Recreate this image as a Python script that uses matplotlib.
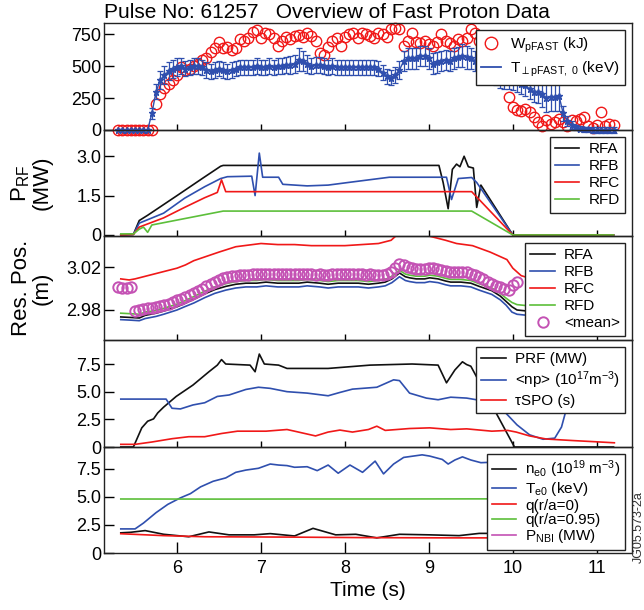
import numpy as np
import matplotlib
matplotlib.use('Agg')
import matplotlib.pyplot as plt
from matplotlib.lines import Line2D

plt.rcParams['font.family'] = ['Liberation Sans', 'DejaVu Sans']
plt.rcParams['mathtext.fontset'] = 'custom'
plt.rcParams['mathtext.rm'] = 'Liberation Sans'
plt.rcParams['mathtext.it'] = 'Liberation Sans:italic'
plt.rcParams['mathtext.bf'] = 'Liberation Sans:bold'
plt.rcParams['mathtext.default'] = 'regular'

BLUE = '#2f4fae'
RED = '#f01818'
GREEN = '#5cbf3a'
MAGENTA = '#c452b4'
BLACK = '#111111'

# ---------------- Panel 1: fast proton energy / temperature ----------------
t1 = np.round(np.arange(5.30, 11.201, 0.05), 2)
w_pfast = [0, 0, 0, 0, 0, 0, 0, 0, 0,
           205, 280, 330, 360, 390,
           430, 495, 470, 480, 500, 520, 545, 560, 610, 640,
           690, 640, 650, 630, 640, 710, 700, 720, 770, 780,
           720, 760, 750, 720, 660, 700, 730, 710, 740, 745,
           730, 760, 740, 700, 600, 590, 650, 700, 720, 660,
           730, 750, 760, 720, 760, 750, 740, 720, 760, 750,
           730, 790, 795, 790, 660, 700, 760, 690, 680, 700,
           670, 660, 690, 750, 700, 680, 660, 710, 700, 720,
           790, 760, 700, 650, 600, 430, 410, 420, 400, 260,
           180, 160, 150, 165, 140, 100, 60, 35, 75, 50,
           60, 90, 60, 30, 80, 70, 90, 100, 30, 15,
           40, 140, 30, 50, 40]
t_perp = [0, 0, 0, 0, 0, 0, 0, 0, 130,
          300, 390, 430, 460, 480,
          490, 500, 480, 490, 500, 500, 490, 470, 460, 470,
          480, 470, 460, 470, 480, 490, 490, 490, 490, 500,
          490, 490, 500, 490, 500, 500, 510, 510, 520, 550,
          540, 520, 500, 510, 510, 500, 490, 500, 490, 490,
          490, 490, 490, 490, 490, 490, 490, 490, 480, 450,
          420, 410, 430, 470, 540, 560, 560, 560, 580, 580,
          560, 520, 530, 540, 550, 540, 560, 570, 580, 570,
          560, 540, 520, 510, 490, 460, 430, 410, 400, 400,
          390, 380, 360, 350, 320, 300, 300, 280, 250, 260,
          260, 270, 130, 70, 40, 20, 10, 5, 5, 0,
          0, 0, 0, 0, 0]
t_perp_err = [0, 0, 0, 0, 0, 0, 0, 0, 40,
              60, 70, 70, 70, 70,
              70, 60, 60, 60, 60, 60, 60, 60, 60, 60,
              60, 60, 60, 60, 60, 60, 60, 60, 60, 60,
              60, 60, 60, 60, 60, 60, 60, 70, 70, 90,
              80, 70, 60, 60, 60, 60, 60, 60, 60, 60,
              60, 60, 60, 60, 60, 60, 60, 60, 60, 60,
              60, 60, 60, 70, 80, 80, 80, 80, 80, 80,
              80, 80, 80, 80, 80, 80, 80, 80, 90, 90,
              80, 80, 80, 80, 80, 80, 80, 80, 80, 80,
              80, 80, 80, 80, 80, 80, 90, 100, 110, 110,
              110, 120, 60, 40, 30, 20, 20, 20, 20, 20,
              20, 20, 20, 20, 20]

# ---------------- Panel 2: RF power per antenna ----------------
rfa_t = [5.33, 5.48, 5.55, 5.65, 6.00, 6.30, 6.52, 6.55, 9.12, 9.17, 9.23, 9.28,
         9.33, 9.37, 9.42, 9.47, 9.53, 9.57, 9.62, 10.00, 11.20]
rfa_p = [0.0, 0.02, 0.55, 0.75, 1.5, 2.15, 2.62, 2.65, 2.65, 2.0, 1.0, 2.5,
         2.7, 2.6, 3.0, 2.6, 2.55, 1.05, 1.9, 0.0, 0.0]
rfb_t = [5.33, 5.48, 5.55, 5.84, 6.09, 6.33, 6.52, 6.60, 6.89, 6.93, 6.98, 7.02,
         7.21, 7.26, 7.55, 7.80, 8.04, 8.53, 9.00, 9.21, 9.27, 9.35, 9.51, 9.57,
         10.00, 11.20]
rfb_p = [0.0, 0.02, 0.45, 0.83, 1.4, 1.84, 2.15, 2.22, 2.24, 1.5, 3.12, 2.2,
         2.2, 1.93, 1.87, 1.9, 2.0, 2.2, 2.2, 2.2, 1.35, 2.15, 2.19, 2.0,
         0.0, 0.0]
rfc_t = [5.33, 5.48, 5.55, 5.84, 6.09, 6.33, 6.48, 6.53, 6.58, 9.51, 10.00, 11.20]
rfc_p = [0.0, 0.02, 0.3, 0.65, 1.05, 1.42, 1.62, 2.1, 1.65, 1.65, 0.0, 0.0]
rfd_t = [5.33, 5.48, 5.55, 5.60, 5.65, 5.70, 6.55, 9.51, 10.00, 11.20]
rfd_p = [0.04, 0.04, 0.22, 0.3, 0.1, 0.38, 0.91, 0.91, 0.0, 0.0]

# ---------------- Panel 3: resonance positions ----------------
t3 = [5.33, 5.45, 5.55, 5.62, 5.75, 5.84, 6.00, 6.09, 6.20, 6.33, 6.45, 6.58,
      6.70, 6.82, 6.95, 7.06, 7.20, 7.31, 7.45, 7.55, 7.70, 7.80, 7.92, 8.04,
      8.16, 8.28, 8.40, 8.48, 8.56, 8.65, 8.72, 8.77, 8.85, 8.95, 9.01, 9.11,
      9.20, 9.26, 9.38, 9.50, 9.60, 9.75, 9.85, 9.92, 9.99, 10.05, 10.30, 10.60]
rfa_r = [2.9735, 2.9730, 2.9725, 2.9750, 2.9770, 2.9790, 2.9830, 2.9860, 2.9900,
         2.9950, 2.9990, 3.0020, 3.0040, 3.0050, 3.0050, 3.0060, 3.0050, 3.0050,
         3.0050, 3.0060, 3.0050, 3.0040, 3.0050, 3.0050, 3.0050, 3.0040, 3.0050,
         3.0060, 3.0090, 3.0145, 3.0110, 3.0100, 3.0090, 3.0090, 3.0100, 3.0090,
         3.0070, 3.0060, 3.0060, 3.0050, 3.0020, 2.9980, 2.9930, 2.9880, 2.9830,
         2.9800, 2.9780, 2.9780]
rfb_r = [2.9710, 2.9705, 2.9700, 2.9720, 2.9740, 2.9760, 2.9800, 2.9830, 2.9865,
         2.9915, 2.9955, 2.9985, 3.0005, 3.0015, 3.0015, 3.0025, 3.0015, 3.0015,
         3.0015, 3.0025, 3.0015, 3.0005, 3.0015, 3.0015, 3.0015, 3.0005, 3.0015,
         3.0025, 3.0055, 3.0110, 3.0075, 3.0065, 3.0055, 3.0055, 3.0065, 3.0055,
         3.0035, 3.0025, 3.0025, 3.0015, 2.9985, 2.9945, 2.9895, 2.9845, 2.9780,
         2.9760, 2.9740, 2.9740]
rfd_r = [2.9770, 2.9765, 2.9760, 2.9780, 2.9795, 2.9815, 2.9855, 2.9885, 2.9925,
         2.9975, 3.0015, 3.0045, 3.0065, 3.0075, 3.0075, 3.0085, 3.0075, 3.0075,
         3.0075, 3.0085, 3.0075, 3.0065, 3.0075, 3.0075, 3.0075, 3.0065, 3.0075,
         3.0085, 3.0115, 3.0170, 3.0135, 3.0125, 3.0115, 3.0115, 3.0125, 3.0115,
         3.0095, 3.0085, 3.0085, 3.0075, 3.0045, 3.0005, 2.9955, 2.9910, 2.9870,
         2.9850, 2.9830, 2.9830]
rfc_rt = [5.33, 5.43, 5.50, 5.60, 5.80, 6.00, 6.10, 6.20, 6.35, 6.50,
          6.70, 6.90, 7.00, 7.20, 7.40, 7.60, 7.80, 8.00, 8.20, 8.40,
          8.55, 8.62, 8.70, 8.80, 8.90, 9.00, 9.10, 9.20, 9.33, 9.52,
          9.73, 9.93, 10.00, 10.10, 10.40, 10.70]
rfc_r = [3.0090, 3.0080, 3.0090, 3.0110, 3.0150, 3.0190, 3.0220, 3.0260, 3.0300, 3.0340,
         3.0390, 3.0410, 3.0420, 3.0410, 3.0410, 3.0400, 3.0400, 3.0400, 3.0410, 3.0420,
         3.0450, 3.0500, 3.0520, 3.0500, 3.0490, 3.0490, 3.0470, 3.0450, 3.0420, 3.0400,
         3.0340, 3.0270, 3.0190, 3.0120, 3.0050, 3.0020]
t_mean = np.round(np.arange(5.30, 10.051, 0.05), 2)
mean_r = [3.0010, 3.0005, 3.0005, 3.0010, 2.9790, 2.9800, 2.9810, 2.9815, 2.9820, 2.9830,
          2.9840, 2.9850, 2.9860, 2.9875, 2.9890, 2.9905, 2.9920, 2.9940, 2.9960, 2.9980,
          3.0000, 3.0020, 3.0040, 3.0060, 3.0080, 3.0095, 3.0105, 3.0115, 3.0120, 3.0125,
          3.0130, 3.0130, 3.0135, 3.0140, 3.0135, 3.0140, 3.0140, 3.0135, 3.0135, 3.0140,
          3.0135, 3.0135, 3.0140, 3.0140, 3.0135, 3.0140, 3.0135, 3.0130, 3.0135, 3.0130,
          3.0130, 3.0135, 3.0135, 3.0140, 3.0135, 3.0135, 3.0140, 3.0135, 3.0135, 3.0130,
          3.0135, 3.0130, 3.0130, 3.0125, 3.0135, 3.0155, 3.0195, 3.0225, 3.0215, 3.0200,
          3.0190, 3.0180, 3.0180, 3.0185, 3.0195, 3.0190, 3.0180, 3.0170, 3.0160, 3.0155,
          3.0150, 3.0155, 3.0155, 3.0150, 3.0140, 3.0125, 3.0105, 3.0085, 3.0065, 3.0045,
          3.0025, 3.0010, 2.9995, 2.9985, 3.0030, 3.0060]

# ---------------- Panel 4: PRF, <np>, tau_SPO ----------------
prf_t = [5.33, 5.48, 5.58, 5.65, 5.72, 5.77, 5.84, 5.99, 6.19, 6.38,
         6.48, 6.53, 6.58, 6.87, 6.93, 6.98, 7.04, 7.21, 7.31, 7.80,
         8.30, 8.80, 9.11, 9.21, 9.31, 9.40, 9.45, 9.50, 10.02, 11.20]
prf_v = [0.0, 0.0, 1.73, 2.33, 2.54, 3.08, 3.6, 4.57, 5.6, 6.8,
         7.4, 7.9, 7.5, 7.4, 6.8, 8.4, 7.5, 7.4, 7.1, 7.1,
         7.4, 7.5, 7.4, 5.8, 6.96, 7.7, 7.45, 7.3, 0.0, 0.0]
np_t = [5.33, 5.87, 5.94, 6.04, 6.19, 6.33, 6.48, 6.62, 6.82, 6.97,
        7.11, 7.31, 7.55, 7.80, 7.94, 8.09, 8.38, 8.58, 8.65, 8.77,
        8.97, 9.11, 9.26, 9.45, 9.70, 9.90, 10.05, 10.20, 10.36, 10.50,
        10.58, 10.63, 10.75, 11.20]
np_v = [4.33, 4.33, 3.5, 3.44, 3.8, 4.0, 4.57, 4.7, 5.2, 5.4,
        5.3, 5.0, 4.87, 4.63, 4.93, 5.23, 5.4, 6.07, 6.0, 4.87,
        4.42, 4.27, 4.5, 4.42, 4.1, 3.2, 2.0, 1.1, 0.7, 0.8,
        1.8, 3.2, 4.3, 4.3]
tau_t = [5.33, 5.50, 5.70, 5.94, 6.14, 6.33, 6.53, 6.72, 7.06, 7.31,
         7.40, 7.65, 7.80, 7.94, 8.09, 8.28, 8.38, 8.48, 8.77, 9.01,
         9.26, 9.45, 9.75, 9.94, 10.04, 10.20, 10.40, 10.72, 10.97, 11.21]
tau_v = [0.24, 0.24, 0.45, 0.75, 0.93, 0.93, 1.22, 1.43, 1.43, 1.58,
         1.43, 1.0, 1.35, 1.53, 1.35, 1.58, 1.88, 1.5, 1.67, 1.73,
         1.58, 1.64, 1.43, 1.5, 1.35, 1.0, 0.72, 0.58, 0.48, 0.38]

# ---------------- Panel 5: plasma parameters ----------------
te_t = [5.33, 5.50, 5.60, 5.75, 5.89, 6.04, 6.16, 6.28, 6.43, 6.58,
        6.70, 6.82, 6.97, 7.11, 7.21, 7.31, 7.40, 7.55, 7.67, 7.80,
        7.92, 8.06, 8.21, 8.36, 8.46, 8.58, 8.70, 8.92, 9.01, 9.16,
        9.23, 9.31, 9.40, 9.50, 9.62, 9.75, 10.00]
te_v = [2.15, 2.15, 2.67, 3.6, 4.34, 4.92, 5.3, 5.9, 6.4, 6.7,
        7.2, 7.4, 7.56, 7.94, 7.85, 7.8, 7.65, 7.7, 7.35, 7.85,
        7.12, 7.85, 7.2, 8.2, 7.06, 7.94, 8.53, 8.76, 8.65, 8.35,
        7.94, 8.3, 8.58, 8.3, 8.06, 8.1, 8.0]
ne_t = [5.33, 5.45, 5.62, 5.84, 6.14, 6.38, 6.62, 6.92, 7.11, 7.40,
        7.62, 7.89, 8.13, 8.38, 8.65, 9.01, 9.36, 9.60, 9.75, 10.00]
ne_v = [1.8, 1.85, 2.0, 1.67, 1.45, 1.88, 1.62, 1.62, 1.73, 1.52,
        2.2, 1.62, 1.67, 1.35, 1.67, 1.62, 1.55, 1.75, 1.75, 1.75]
q0_t = [5.33, 5.84, 6.33, 7.31, 8.28, 9.26, 9.75, 10.00]
q0_v = [1.72, 1.55, 1.45, 1.42, 1.37, 1.35, 1.35, 1.35]
q95_t = [5.33, 6.50, 7.50, 8.50, 9.50, 10.00]
q95_v = [4.82, 4.81, 4.82, 4.82, 4.83, 4.83]

XLIM = (5.13, 11.42)

fig = plt.figure(figsize=(6.44, 6.10), dpi=100)
fig.patch.set_facecolor('white')
L, R = 104, 632
edges = [23, 130, 236, 340, 447, 553]
axes = []
for i in range(5):
    top, bot = edges[i], edges[i + 1]
    ax = fig.add_axes([L / 644, 1 - bot / 610, (R - L) / 644, (bot - top) / 610])
    ax.set_facecolor('none')
    ax.set_xlim(*XLIM)
    ax.set_xticks([6, 7, 8, 9, 10, 11])
    ax.tick_params(axis='y', direction='in', length=7, width=1, labelsize=13, pad=2)
    ax.tick_params(axis='x', direction='in', length=4.5, width=1, labelsize=13, pad=5)
    for s in ax.spines.values():
        s.set_linewidth(1.0)
        s.set_color('#222222')
    if i < 4:
        ax.tick_params(axis='x', labelbottom=False)
    axes.append(ax)
ax1, ax2, ax3, ax4, ax5 = axes

leg_kw = dict(loc='upper right', frameon=True, fancybox=False, framealpha=1,
              edgecolor='#222222', fontsize=11, borderpad=0.35, labelspacing=0.2,
              handlelength=1.6, handletextpad=0.6, borderaxespad=0.45)

# Panel 1
ax1.plot(t1, w_pfast, linestyle='none', marker='o', mfc='none', mec=RED,
         ms=7.5, mew=1.0, clip_on=False, zorder=2)
ax1.errorbar(t1, t_perp, yerr=t_perp_err, color=BLUE, marker='*', ms=5,
             lw=1.0, elinewidth=0.9, capsize=2.5, capthick=0.9, clip_on=False, zorder=3)
ax1.set_ylim(0, 838)
ax1.set_yticks([0, 250, 500, 750])
ax1.set_yticklabels(['0', '250', '500', '750'])
h1 = [Line2D([], [], ls='none', marker='o', mfc='none', mec=RED, ms=9, mew=1.0),
      Line2D([], [], color=BLUE, lw=1.3)]
kw1 = dict(leg_kw)
kw1.update(labelspacing=0.35, handlelength=1.3)
lg = ax1.legend(h1, ['W$_{pFAST}$ (kJ)', r'T$_{\perp pFAST,\ 0}$ (keV)'], **kw1)
lg.get_frame().set_linewidth(1.0)

# Panel 2
ax2.plot(rfa_t, rfa_p, color=BLACK, lw=1.2, label='RFA')
ax2.plot(rfb_t, rfb_p, color=BLUE, lw=1.2, label='RFB')
ax2.plot(rfc_t, rfc_p, color=RED, lw=1.2, label='RFC')
ax2.plot(rfd_t, rfd_p, color=GREEN, lw=1.2, label='RFD')
ax2.set_ylim(-0.04, 4.0)
ax2.set_yticks([0, 1.5, 3.0])
ax2.set_yticklabels(['0', '1.5', '3.0'])
lg = ax2.legend(**leg_kw)
lg.get_frame().set_linewidth(1.0)
ax2.set_ylabel('P$_{RF}$\n(MW)', fontsize=16, linespacing=0.95)
ax2.yaxis.set_label_coords(-0.098, 0.5)

# Panel 3
ax3.plot(t3, rfa_r, color=BLACK, lw=1.2, label='RFA')
ax3.plot(t3, rfb_r, color=BLUE, lw=1.2, label='RFB')
ax3.plot(rfc_rt, rfc_r, color=RED, lw=1.2, label='RFC')
ax3.plot(t3, rfd_r, color=GREEN, lw=1.2, label='RFD')
ax3.plot(t_mean, mean_r, ls='none', marker='o', mfc='none', mec=MAGENTA,
         ms=7.5, mew=1.4, label='<mean>')
ax3.set_ylim(2.952, 3.049)
ax3.set_yticks([2.98, 3.02])
ax3.set_yticklabels(['2.98', '3.02'])
lg = ax3.legend(**leg_kw)
lg.get_frame().set_linewidth(1.0)
ax3.set_ylabel('Res. Pos.\n(m)', fontsize=16, linespacing=0.95)
ax3.yaxis.set_label_coords(-0.098, 0.5)

# Panel 4
ax4.plot(prf_t, prf_v, color=BLACK, lw=1.2, label='PRF (MW)')
ax4.plot(np_t, np_v, color=BLUE, lw=1.2, label='<np> (10$^{17}$m$^{-3}$)')
ax4.plot(tau_t, tau_v, color=RED, lw=1.2, label='\u03c4SPO (s)')
ax4.set_ylim(0, 9.67)
ax4.set_yticks([0, 2.5, 5.0, 7.5])
ax4.set_yticklabels(['0', '2.5', '5.0', '7.5'])
lg = ax4.legend(**leg_kw)
lg.get_frame().set_linewidth(1.0)

# Panel 5
ax5.plot(ne_t, ne_v, color=BLACK, lw=1.2, label='n$_{e0}$ (10$^{19}$ m$^{-3}$)')
ax5.plot(te_t, te_v, color=BLUE, lw=1.2, label='T$_{e0}$ (keV)')
ax5.plot(q0_t, q0_v, color=RED, lw=1.2, label='q(r/a=0)')
ax5.plot(q95_t, q95_v, color=GREEN, lw=1.2, label='q(r/a=0.95)')
ax5.plot([], [], color=MAGENTA, lw=1.2, label='P$_{NBI}$ (MW)')
ax5.set_ylim(0, 9.46)
ax5.set_yticks([0, 2.5, 5.0, 7.5])
ax5.set_yticklabels(['0', '2.5', '5.0', '7.5'])
ax5.tick_params(axis='x', length=8, labelbottom=True)
kw5 = dict(leg_kw)
kw5.update(labelspacing=0.02, borderpad=0.3)
lg = ax5.legend(**kw5)
lg.get_frame().set_linewidth(1.0)
ax5.set_xlabel('Time (s)', fontsize=15, labelpad=3)

fig.text(L / 644, 1 - 12 / 610, 'Pulse No: 61257   Overview of Fast Proton Data',
         ha='left', va='center', fontsize=15)
fig.text(639 / 644, 1 - 527 / 610, 'JG05.573-2a', rotation=90, ha='center',
         va='center', fontsize=9, color='#333333')

fig.savefig('out.png', dpi=100, facecolor='white')
